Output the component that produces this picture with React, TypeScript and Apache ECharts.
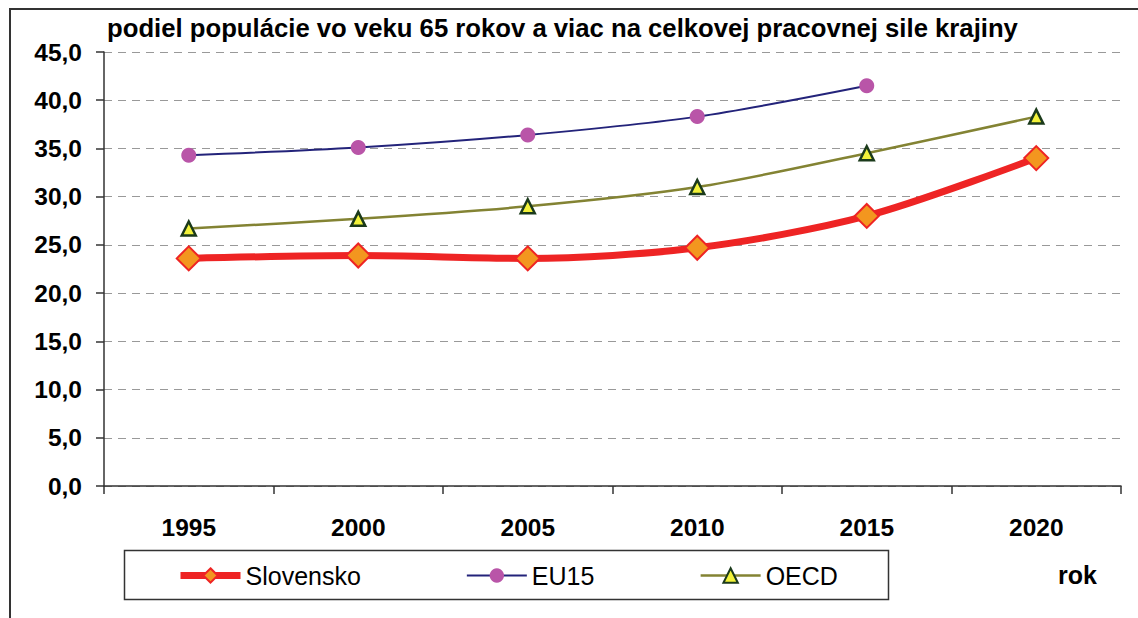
import React, { useEffect, useRef } from "react";
import * as echarts from "echarts";

const title = "podiel populácie vo veku 65 rokov a viac na celkovej pracovnej sile krajiny";
const years = ["1995", "2000", "2005", "2010", "2015", "2020"];
const slovensko = [23.6, 23.9, 23.6, 24.7, 28.0, 34.0];
const eu15 = [34.3, 35.1, 36.4, 38.3, 41.5, null];
const oecd = [26.7, 27.7, 29.0, 31.0, 34.5, 38.3];
const xAxisName = "rok";

export default function App() {
  const ref = useRef<HTMLDivElement>(null);
  useEffect(() => {
    if (!ref.current) return;
    const chart = echarts.init(ref.current, undefined, { renderer: "svg" });
    const font = "Arial, 'Liberation Sans', sans-serif";
    chart.setOption({
      animation: false,
      backgroundColor: "#ffffff",
      textStyle: { fontFamily: font },
      title: {
        text: title,
        left: 102,
        top: 10,
        textStyle: { fontSize: 25.7, fontWeight: "bold", color: "#000", fontFamily: font },
      },
      grid: { left: 104, right: 17, top: 52, bottom: 132, containLabel: false },
      legend: {
        left: 172,
        top: 558,
        itemWidth: 60,
        itemHeight: 18,
        itemGap: 105,
        textStyle: { fontSize: 25, color: "#000", fontFamily: font },
        data: [
          { name: "Slovensko", lineStyle: { width: 7 } },
          { name: "EU15", lineStyle: { width: 2 } },
          { name: "OECD", lineStyle: { width: 2.5 } },
        ],
      },
      graphic: [
        {
          type: "rect",
          shape: { x: 10, y: 9, width: 1140, height: 620 },
          style: { fill: "none", stroke: "#333", lineWidth: 2 },
          silent: true,
          z: -1,
        },
        {
          type: "rect",
          shape: { x: 124.5, y: 550.5, width: 764, height: 49 },
          style: { fill: "none", stroke: "#333", lineWidth: 1.5 },
          silent: true,
        },
        {
          type: "text",
          left: 1058,
          top: 562,
          style: { text: xAxisName, fontSize: 25, fontWeight: "bold", fill: "#000", fontFamily: font },
        },
      ],
      xAxis: {
        type: "category",
        data: years,
        boundaryGap: true,
        axisLine: { lineStyle: { color: "#333", width: 1.5 } },
        axisTick: { show: true, length: 8, inside: false, alignWithLabel: false, lineStyle: { color: "#333", width: 1.5 } },
        axisLabel: { margin: 29, fontSize: 24.5, fontWeight: "bold", color: "#000", fontFamily: font },
        splitLine: { show: false },
      },
      yAxis: {
        type: "value",
        min: 0,
        max: 45,
        interval: 5,
        axisLine: { show: true, lineStyle: { color: "#333", width: 1.5 } },
        axisTick: { show: true, length: 8, lineStyle: { color: "#333", width: 1.5 } },
        axisLabel: {
          margin: 22,
          fontSize: 24.5,
          fontWeight: "bold",
          color: "#000",
          fontFamily: font,
          formatter: (v: number) => v.toFixed(1).replace(".", ","),
        },
        splitLine: { show: true, lineStyle: { color: "#999", type: [8, 6], width: 1.2 } },
      },
      series: [
        {
          name: "Slovensko",
          type: "line",
          data: slovensko,
          smooth: 0.3,
          z: 5,
          lineStyle: { color: "#ee2424", width: 7 },
          symbol: "diamond",
          symbolSize: 24,
          itemStyle: { color: "#f3961f", borderColor: "#ee2424", borderWidth: 2 },
        },
        {
          name: "EU15",
          type: "line",
          data: eu15,
          smooth: 0.3,
          z: 3,
          lineStyle: { color: "#23237a", width: 2 },
          symbol: "circle",
          symbolSize: 15,
          itemStyle: { color: "#b955a8", borderWidth: 0 },
        },
        {
          name: "OECD",
          type: "line",
          data: oecd,
          smooth: 0.3,
          z: 4,
          lineStyle: { color: "#838333", width: 2.5 },
          symbol: "triangle",
          symbolSize: 14,
          itemStyle: { color: "#f2f23a", borderColor: "#1b3a1b", borderWidth: 2.5 },
        },
      ],
    });
    return () => chart.dispose();
  }, []);
  return (
    <div
      ref={ref}
      style={{ position: "fixed", left: 0, top: 0, width: 1138, height: 618 }}
    />
  );
}
